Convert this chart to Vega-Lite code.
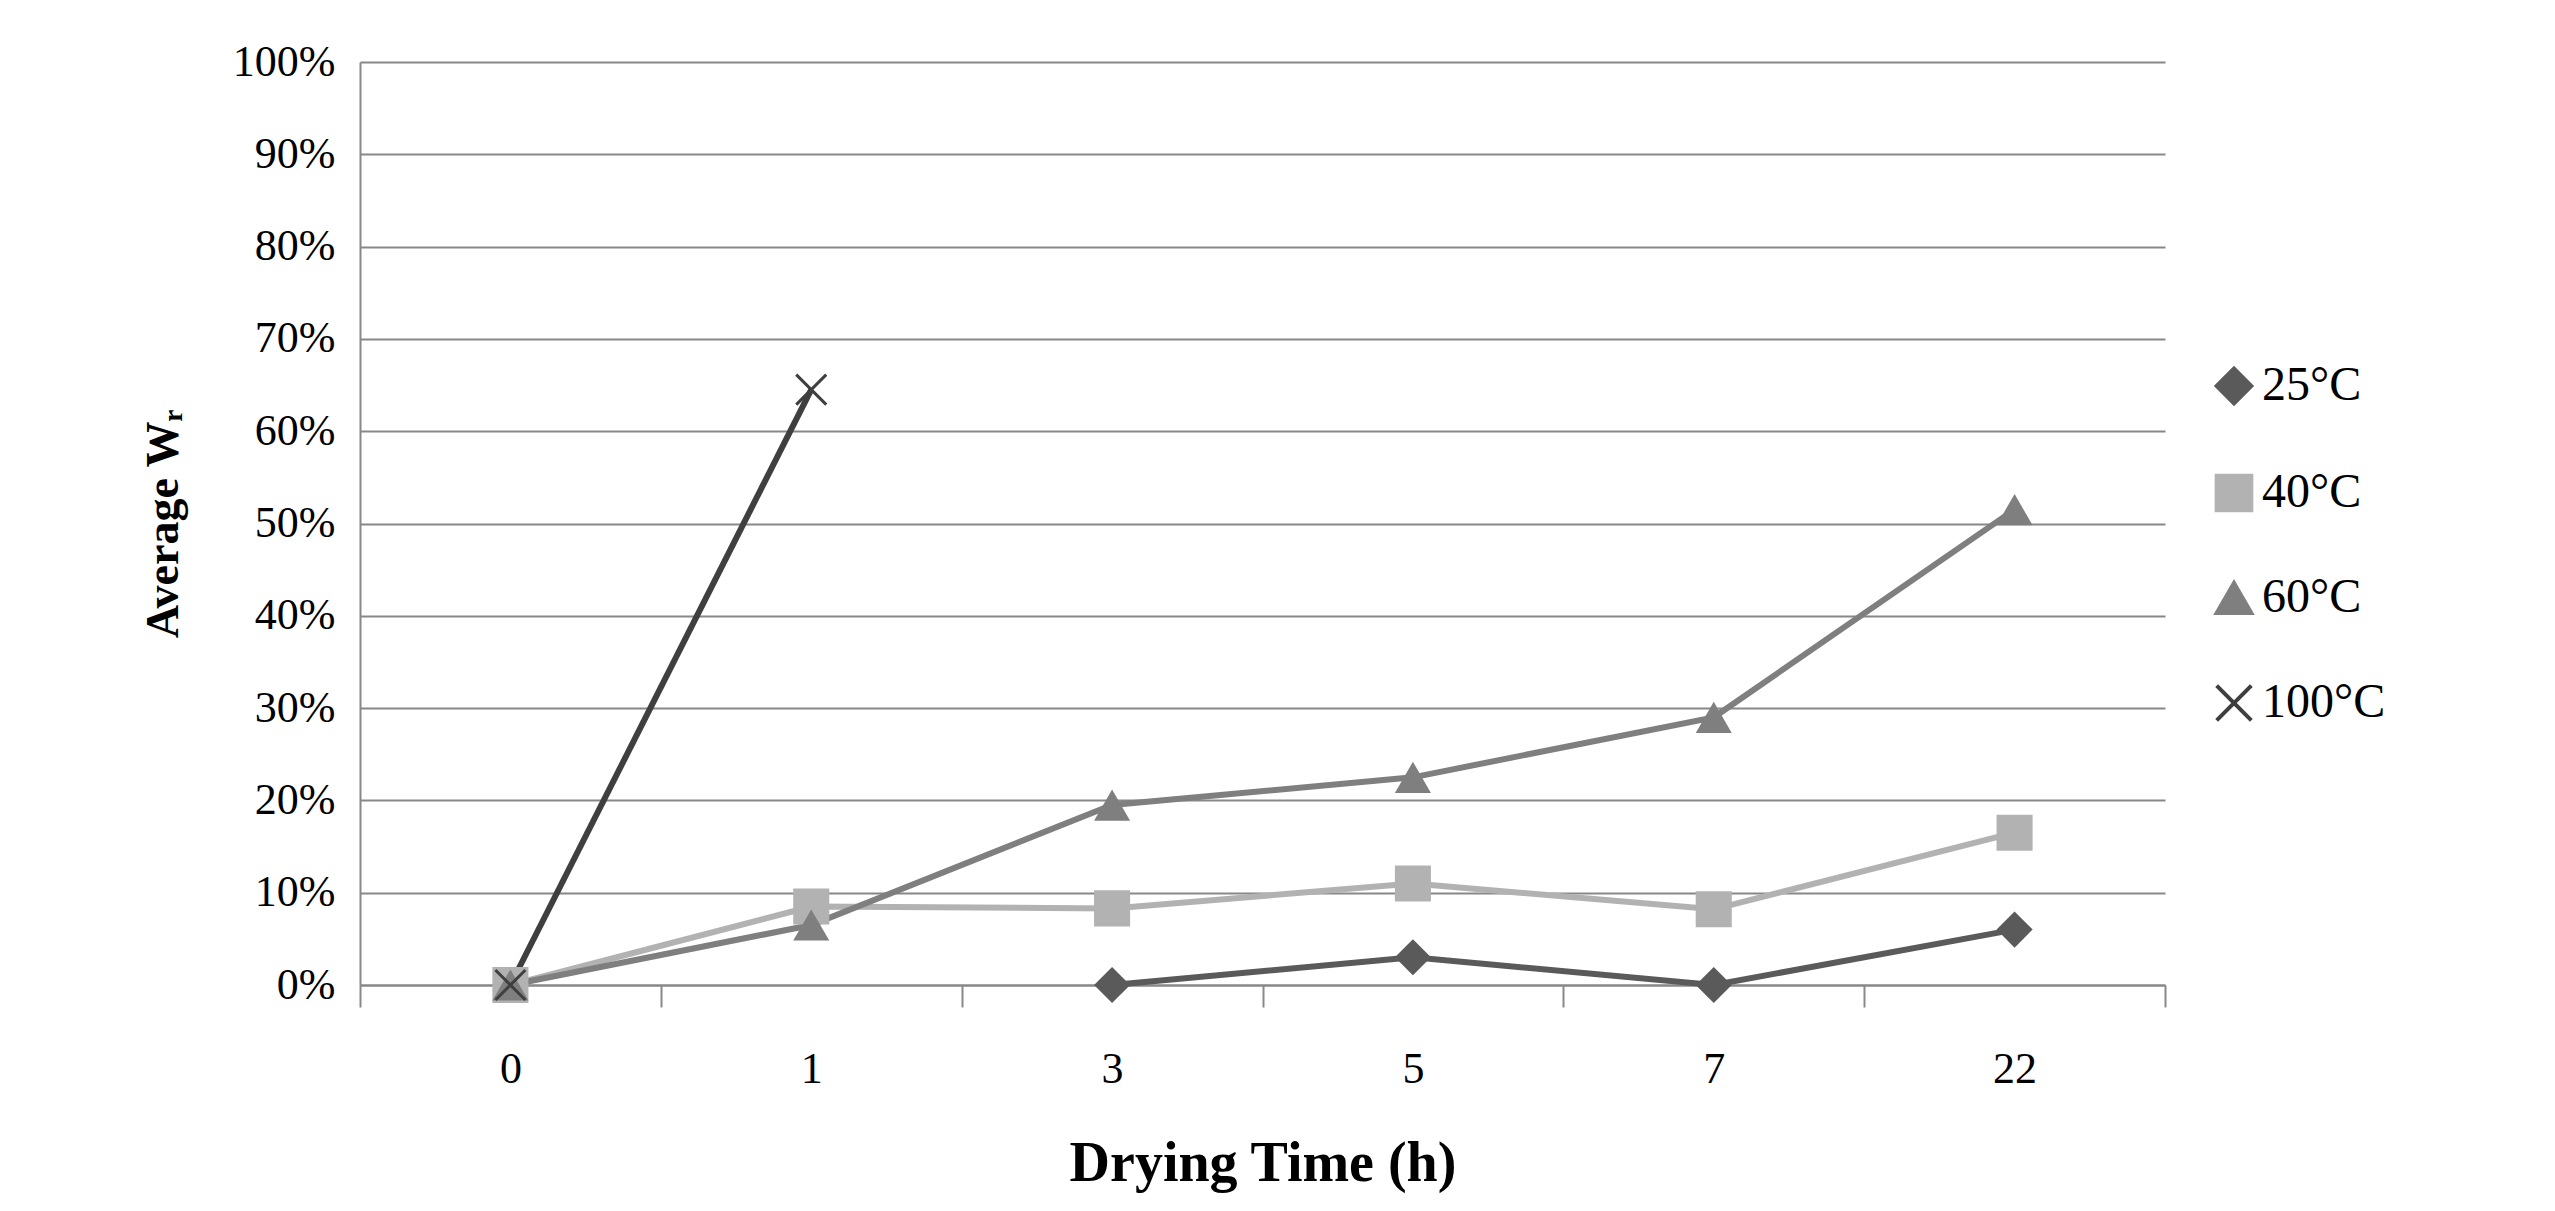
{
"$schema":"https://vega.github.io/schema/vega-lite/v6.json",
"width":1805,"height":923,
"padding":{"left":140,"top":40,"right":10,"bottom":10},
"background":"white",
"config":{"font":"Liberation Serif","view":{"stroke":null}},
"data":{"values":[
{"t":"3","v":0,"s":"25°C"},{"t":"5","v":0.03,"s":"25°C"},{"t":"7","v":0,"s":"25°C"},{"t":"22","v":0.06,"s":"25°C"},
{"t":"0","v":0,"s":"40°C"},{"t":"1","v":0.085,"s":"40°C"},{"t":"3","v":0.083,"s":"40°C"},{"t":"5","v":0.11,"s":"40°C"},{"t":"7","v":0.082,"s":"40°C"},{"t":"22","v":0.165,"s":"40°C"},
{"t":"0","v":0,"s":"60°C"},{"t":"1","v":0.065,"s":"60°C"},{"t":"3","v":0.195,"s":"60°C"},{"t":"5","v":0.225,"s":"60°C"},{"t":"7","v":0.29,"s":"60°C"},{"t":"22","v":0.515,"s":"60°C"},
{"t":"0","v":0,"s":"100°C"},{"t":"1","v":0.645,"s":"100°C"}
]},
"encoding":{
"x":{"field":"t","type":"ordinal","sort":["0","1","3","5","7","22"],"scale":{"type":"band","paddingInner":0,"paddingOuter":0},
"axis":{"title":"Drying Time (h)","titleFontSize":56,"titleFontWeight":"bold","titlePadding":45,"labelFontSize":44,"labelAngle":0,"labelPadding":40,"tickBand":"extent","tickSize":22,"tickColor":"#888","tickWidth":2,"domainColor":"#888","domainWidth":2,"grid":false,"labelColor":"#000"}},
"y":{"field":"v","type":"quantitative","scale":{"domain":[0,1]},
"axis":{"title":"Average Wᵣ","titleFontSize":46,"titleFontWeight":"bold","titlePadding":45,"format":".0%","tickCount":10,"labelFontSize":44,"labelPadding":25,"ticks":false,"domainColor":"#888","domainWidth":2,"gridColor":"#888","gridWidth":2,"labelColor":"#000"}},
"color":{"field":"s","type":"nominal","sort":["25°C","40°C","60°C","100°C"],"scale":{"domain":["25°C","40°C","60°C","100°C"],"range":["#5a5a5a","#b2b2b2","#7f7f7f","#3f3f3f"]},
"legend":{"title":null,"orient":"none","legendX":1850,"legendY":300,"labelFontSize":48,"symbolSize":1200,"symbolStrokeWidth":4,"rowPadding":55,"labelColor":"#000","symbolFillColor":"#666"}},
"shape":{"field":"s","type":"nominal","sort":["25°C","40°C","60°C","100°C"],"scale":{"domain":["25°C","40°C","60°C","100°C"],"range":["diamond","square","triangle-up","M-1,-1L1,1M-1,1L1,-1"]}}
},
"layer":[
{"mark":{"type":"line","strokeWidth":6}},
{"mark":{"type":"point","filled":true,"size":1300,"opacity":1},"transform":[{"filter":"datum.s!='100°C'"}]},
{"mark":{"type":"point","filled":false,"size":900,"strokeWidth":3,"opacity":1},"transform":[{"filter":"datum.s=='100°C'"}]}
]
}
